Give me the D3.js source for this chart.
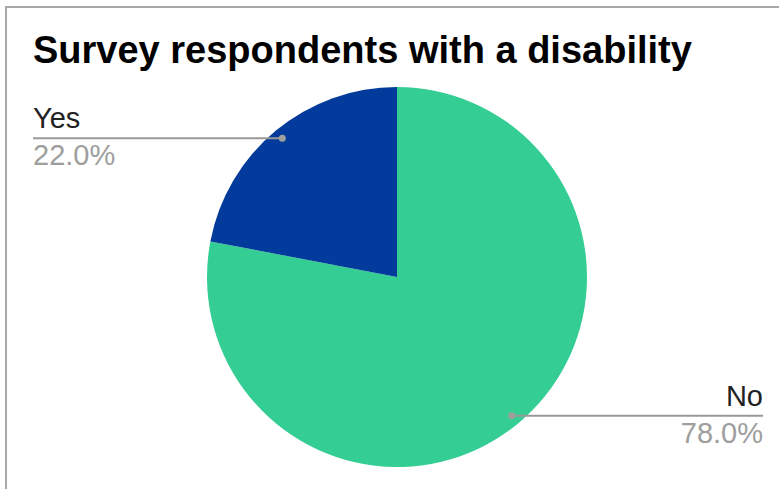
<!DOCTYPE html>
<html>
<head>
<meta charset="utf-8">
<script src="https://cdn.jsdelivr.net/npm/d3@7"></script>
<style>
  html, body { margin: 0; padding: 0; background: #fff; }
  svg { display: block; }
</style>
</head>
<body>
<svg id="chart" width="779" height="489"></svg>
<script>
// Survey answers and their shares (percent)
const categories = ["No", "Yes"];
const shares = [78.0, 22.0];
const sliceColors = ["#34cd93", "#023b9b"];
const chartTitle = "Survey respondents with a disability";

const svg = d3.select("#chart");
const W = 779, H = 489;
const font = "'Liberation Sans', Arial, Helvetica, sans-serif";

// Frame around the chart card
svg.append("rect")
  .attr("x", 6).attr("y", 7)
  .attr("width", W + 10).attr("height", H + 10)
  .attr("fill", "#fff")
  .attr("stroke", "#a8a8a8")
  .attr("stroke-width", 2);

// Title
svg.append("text")
  .attr("x", 33).attr("y", 63)
  .attr("font-family", font)
  .attr("font-weight", "bold")
  .attr("font-size", 38)
  .attr("fill", "#000")
  .text(chartTitle);

// Pie geometry
const cx = 397, cy = 277, radius = 190;
const data = categories.map((c, i) => ({ label: c, value: shares[i], color: sliceColors[i] }));

const pie = d3.pie().value(d => d.value).sort(null);
const arcs = pie(data);
const arc = d3.arc().innerRadius(0).outerRadius(radius);

const g = svg.append("g").attr("transform", `translate(${cx},${cy})`);
g.selectAll("path.slice")
  .data(arcs)
  .join("path")
  .attr("class", "slice")
  .attr("d", arc)
  .attr("fill", d => d.data.color);

// Leader lines and labels
const dotR = radius * 0.947;
const fmt = d3.format(".1f");

arcs.forEach(a => {
  const mid = (a.startAngle + a.endAngle) / 2;
  const px = cx + Math.sin(mid) * dotR;
  const py = cy - Math.cos(mid) * dotR;
  const leftSide = Math.sin(mid) < 0;
  const lineEnd = leftSide ? 33 : 763;
  const anchor = leftSide ? "start" : "end";

  svg.append("line")
    .attr("x1", px).attr("y1", py)
    .attr("x2", lineEnd).attr("y2", py)
    .attr("stroke", "#999")
    .attr("stroke-width", 2);
  svg.append("circle")
    .attr("cx", px).attr("cy", py).attr("r", 3.5)
    .attr("fill", "#a0a0a0");

  svg.append("text")
    .attr("x", lineEnd).attr("y", py - 10)
    .attr("text-anchor", anchor)
    .attr("font-family", font)
    .attr("font-size", 29)
    .attr("fill", "#222")
    .text(a.data.label);
  svg.append("text")
    .attr("x", lineEnd).attr("y", py + 27)
    .attr("text-anchor", anchor)
    .attr("font-family", font)
    .attr("font-size", 29)
    .attr("fill", "#9e9e9e")
    .text(fmt(a.data.value) + "%");
});
</script>
</body>
</html>
